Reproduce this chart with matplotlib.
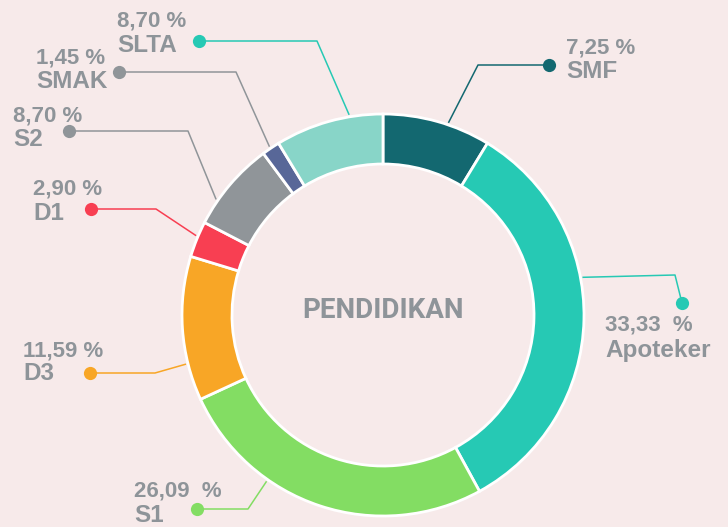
"""Donut chart of PENDIDIKAN (education level) shares."""

import matplotlib

matplotlib.use("Agg")
import matplotlib.pyplot as plt
import numpy as np

# wedge data, clockwise from the top
categories = ["SMF", "Apoteker", "S1", "D3", "D1", "S2", "SMAK", "SLTA"]
counts = [6, 23, 18, 8, 2, 5, 1, 6]
# percentages exactly as printed on the labels
pct_labels = ["7,25 %", "33,33  %", "26,09  %", "11,59 %", "2,90 %", "8,70 %", "1,45 %", "8,70 %"]
colors = ["#136870", "#26C9B4", "#83DD63", "#F8A626", "#F83F52", "#909599", "#586798", "#88D5C8"]
dot_colors = ["#136870", "#26C9B4", "#83DD63", "#F8A626", "#F83F52", "#909599", "#909599", "#26C9B4"]

BG = "#F7EAEA"
TXT = "#8E9499"
CX, CY, R, W = 383, 315, 201, 50

# label layout in pixels (y down): anchor angle on the ring, elbow, dot, text
layout = {
    "SMF": dict(ang=18.8, elbow=(478, 65), dot=(549, 65), tx=566, ty=(48, 72)),
    "Apoteker": dict(ang=79.3, elbow=(675, 275), dot=(682, 303), tx=605, ty=(325, 350)),
    "S1": dict(ang=215.0, elbow=(248, 509), dot=(197, 509), tx=134, ty=(491, 515)),
    "D3": dict(ang=256.0, elbow=(155, 373), dot=(90, 373), tx=23, ty=(351, 374)),
    "D1": dict(ang=293.0, elbow=(156, 209), dot=(91, 209), tx=33, ty=(189, 213)),
    "S2": dict(ang=304.7, elbow=(188, 131), dot=(69, 131), tx=13, ty=(116, 139)),
    "SMAK": dict(ang=326.0, elbow=(236, 72), dot=(119, 72), tx=36, ty=(58, 81)),
    "SLTA": dict(ang=350.4, elbow=(317, 41), dot=(199, 41), tx=117, ty=(21, 46)),
}

fig = plt.figure(figsize=(7.28, 5.27), dpi=100, facecolor=BG)
ax = fig.add_axes([0, 0, 1, 1])
ax.set_facecolor(BG)

ax.pie(
    counts,
    colors=colors,
    startangle=-90,
    counterclock=True,
    center=(CX, CY),
    radius=R,
    wedgeprops=dict(width=W, edgecolor="white", linewidth=2),
)
ax.set_xlim(0, 728)
ax.set_ylim(527, 0)
ax.set_aspect("equal")
ax.axis("off")

font = "Liberation Sans"
for name, pct, dc in zip(categories, pct_labels, dot_colors):
    lay = layout[name]
    a = np.deg2rad(lay["ang"])
    ax_x = CX + (R + 2) * np.sin(a)
    ax_y = CY - (R + 2) * np.cos(a)
    xs = [ax_x, lay["elbow"][0], lay["dot"][0]]
    ys = [ax_y, lay["elbow"][1], lay["dot"][1]]
    ax.plot(xs, ys, color=dc, linewidth=1.1, solid_capstyle="butt", zorder=3)
    ax.plot(*lay["dot"], marker="o", markersize=9.5, color=dc, markeredgewidth=0, zorder=4)
    ax.text(lay["tx"], lay["ty"][0], pct, ha="left", va="center", fontsize=16,
            color=TXT, family=font, fontweight="bold")
    ax.text(lay["tx"], lay["ty"][1], name, ha="left", va="center", fontsize=17.5,
            color=TXT, family=font, fontweight="bold")

ax.text(CX, 310, "PENDIDIKAN", ha="center", va="center", fontsize=20,
        color=TXT, family="Roboto", fontweight="bold")

fig.savefig("out.png", dpi=100, facecolor=BG)
